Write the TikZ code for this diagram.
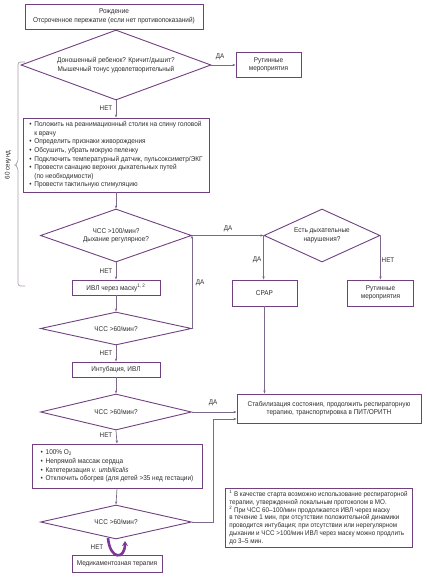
\documentclass[tikz,border=0pt]{standalone}
\usepackage{fontspec}
\setmainfont{Liberation Sans}[FakeStretch=0.92]
\usetikzlibrary{shapes.geometric,arrows.meta}
\definecolor{boxc}{RGB}{112,64,128}
\definecolor{linec}{RGB}{125,105,140}
\definecolor{txtc}{RGB}{45,45,45}
\definecolor{loopc}{RGB}{125,55,150}
\definecolor{brc}{RGB}{170,160,175}
\newcommand{\bul}{\makebox[5pt][l]{•}}
\newcommand{\ind}{\hspace*{5pt}}
\begin{document}
\begin{tikzpicture}[x=1pt,y=-1pt,
  every node/.style={text=txtc,font=\fontsize{7}{8.6}\selectfont},
  rbox/.style={draw=boxc,line width=0.9pt,rectangle,inner sep=0pt,align=center},
  lbox/.style={draw=boxc,line width=0.9pt,rectangle,inner sep=0pt,align=left},
  dbox/.style={draw=boxc,line width=0.9pt,diamond,inner sep=0pt,align=center},
  conn/.style={draw=linec,line width=0.7pt,-{Stealth[length=3.2pt,width=2.4pt]}},
  lab/.style={inner sep=0pt,font=\fontsize{6.8}{8}\selectfont}
]
\useasboundingbox (0,0) rectangle (426,578);
% boxes
\node[rbox,minimum width=178pt,minimum height=25pt] (b1) at (114,16.5) {Рождение\\Отсроченное пережатие (если нет противопоказаний)};
\node[dbox,aspect=2.714,minimum width=190pt,minimum height=70pt] (d1) at (116,65) {Доношенный ребенок? Кричит/дышит?\\Мышечный тонус удовлетворительный};
\node[rbox,minimum width=65pt,minimum height=25pt] (r1) at (268.5,65) {Рутинные\\мероприятия};
\node[lbox,minimum width=186pt,minimum height=74pt] (b2) at (116,155) {\bul Положить на реанимационный столик на спину головой\\\ind к врачу\\\bul Определить признаки живорождения\\\bul Обсушить, убрать мокрую пеленку\\\bul Подключить температурный датчик, пульсоксиметр/ЭКГ\\\bul Провести санацию верхних дыхательных путей\\\ind (по необходимости)\\\bul Провести тактильную стимуляцию};
\node[dbox,aspect=2.849,minimum width=151pt,minimum height=53pt] (d2) at (116,235.5) {ЧСС >100/мин?\\Дыхание регулярное?};
\node[dbox,aspect=2.189,minimum width=116pt,minimum height=53pt] (d3) at (322,235.5) {Есть дыхательные\\нарушения?};
\node[rbox,minimum width=65pt,minimum height=26pt] (cpap) at (264.5,293) {CPAP};
\node[rbox,minimum width=66pt,minimum height=26pt] (r2) at (380.5,293) {Рутинные\\мероприятия};
\node[rbox,minimum width=88pt,minimum height=15pt] (ivl) at (116,287.5) {ИВЛ через маску\textsuperscript{1, 2}};
\node[dbox,aspect=4.576,minimum width=151pt,minimum height=33pt] (d4) at (116,328.5) {ЧСС >60/мин?};
\node[rbox,minimum width=88pt,minimum height=15pt] (intub) at (116,369.5) {Интубация, ИВЛ};
\node[dbox,aspect=4.194,minimum width=151pt,minimum height=36pt] (d5) at (116,412) {ЧСС >60/мин?};
\node[lbox,minimum width=170pt,minimum height=44pt] (b3) at (117,466) {\bul 100\% O\textsubscript{2}\\\bul Непрямой массаж сердца\\\bul Катетеризация \textit{v. umbilicalis}\\\bul Отключить обогрев (для детей >35 нед гестации)};
\node[dbox,aspect=4.441,minimum width=151pt,minimum height=34pt] (d6) at (116,522) {ЧСС >60/мин?};
\node[rbox,minimum width=90pt,minimum height=17pt] (med) at (117,563.5) {Медикаментозная терапия};
\node[rbox,minimum width=184pt,minimum height=29pt] (stab) at (329,408.5) {Стабилизация состояния, продолжить респираторную\\терапию, транспортировка в ПИТ/ОРИТН};
\node[lbox,minimum width=187pt,minimum height=59pt,font=\fontsize{6.8}{7.9}\selectfont] (foot) at (318.5,517.5) {\textsuperscript{1} В качестве старта возможно использование респираторной\\терапии, утвержденной локальным протоколом в МО.\\\textsuperscript{2} При ЧСС 60–100/мин продолжается ИВЛ через маску\\в течение 1 мин, при отсутствии положительной динамики\\проводится интубация; при отсутствии или нерегулярном\\дыхании и ЧСС >100/мин ИВЛ через маску можно продлить\\до 3–5 мин.};
% connectors
\draw[conn] (d1.east) -- (r1.west);
\draw[conn] (d1.south) -- (b2.north);
\draw[conn] (b2.south) -- (d2.north);
\draw[conn] (d2.east) -- (d3.west);
\draw[conn] (d2.south) -- (ivl.north);
\draw[conn] (ivl.south) -- (d4.north);
\draw[conn] (d4.east) -- (d2.east);
\draw[conn] (d4.south) -- (intub.north);
\draw[conn] (intub.south) -- (d5.north);
\draw[conn] (d5.east) -- (d5.east -| stab.west);
\draw[conn] (d5.south) -- (b3.north);
\draw[conn] (b3.south) -- (d6.north);
\coordinate (j) at (213,419);
\draw[conn] (d6.east) -| (j) -- (j -| stab.west);
\draw[conn] (d3.west) -- (d3.west |- cpap.north);
\draw[conn] (d3.east) -- (d3.east |- r2.north);
\draw[conn] (cpap.south) -- (cpap.south |- stab.north);
% loop arrow
\coordinate (la) at (108,538);
\coordinate (lb) at (125,541);
\draw[draw=loopc,line width=2.6pt,-{Stealth[length=5pt,width=6pt]}] (la) .. controls (110,560) and (125,560) .. (lb);
% labels
\node[lab] (l1) at (220,57) {ДА};
\node[lab] (l2) at (106,108) {НЕТ};
\node[lab] (l3) at (228,229) {ДА};
\node[lab] (l4) at (106,271) {НЕТ};
\node[lab] (l5) at (200,283) {ДА};
\node[lab] (l6) at (106,353) {НЕТ};
\node[lab] (l7) at (257,260) {ДА};
\node[lab] (l8) at (388,260) {НЕТ};
\node[lab] (l9) at (213,403) {ДА};
\node[lab] (l10) at (106,435) {НЕТ};
\node[lab] (l11) at (97,547) {НЕТ};
% bracket
\draw[draw=brc,line width=0.7pt,rounded corners=2.5pt] (25,62) -- (18,62) -- (18,162) -- (15,165) -- (18,168) -- (18,286) -- (25,286);
\node[lab,rotate=90] (sec) at (8,165) {60 секунд};
\end{tikzpicture}
\end{document}
